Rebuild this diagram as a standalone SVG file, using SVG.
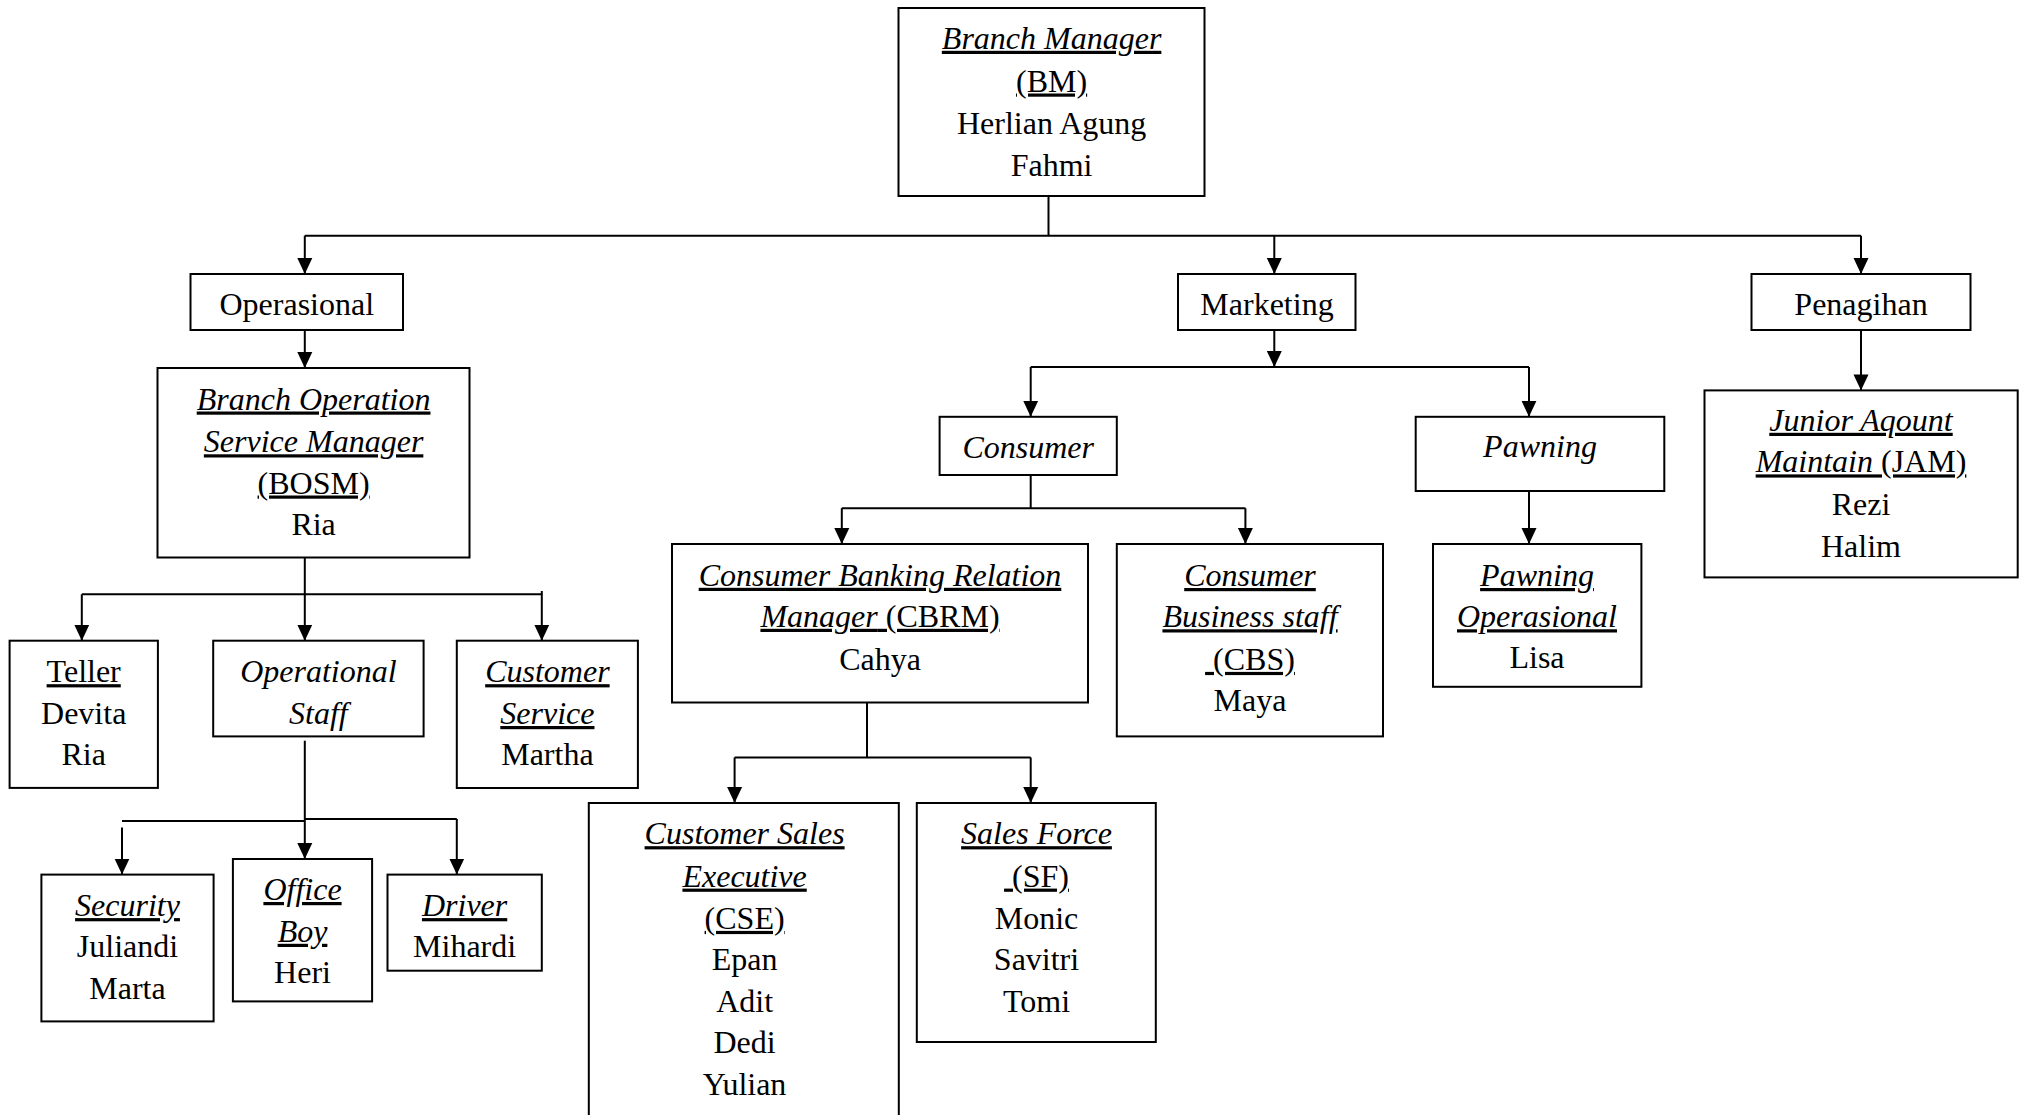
<svg xmlns="http://www.w3.org/2000/svg" width="2027" height="1115" viewBox="0 0 2027 1115">
<style>
.bg{fill:#fff}
.box{fill:#fff;stroke:#000;stroke-width:2}
.ln{fill:none;stroke:#000;stroke-width:2}
.ar{fill:none;stroke:#000;stroke-width:2;marker-end:url(#ah)}
.t{font-family:"Liberation Serif","Times New Roman",serif;font-size:32px;text-anchor:middle;fill:#000}
.i{font-style:italic}
.u{text-decoration:underline}
</style>
<defs>
<marker id="ah" viewBox="0 0 16 16" refX="16" refY="8" markerUnits="userSpaceOnUse" markerWidth="16" markerHeight="16" orient="auto">
<path d="M0,0.5 L16,8 L0,15.5 z" fill="#000"/>
</marker>
</defs>
<rect class="bg" x="0" y="0" width="2027" height="1115"/>

<g id="connectors">
<path class="ln" d="M1048.5,196 V235.7"/>
<path class="ln" d="M304.8,235.7 H1861"/>
<path class="ar" d="M304.8,235.7 V274"/>
<path class="ar" d="M1274.3,235.7 V274"/>
<path class="ar" d="M1861,235.7 V274"/>
<path class="ar" d="M304.8,330 V368"/>
<path class="ar" d="M1274.3,330 V367"/>
<path class="ln" d="M1030.7,367 H1529"/>
<path class="ar" d="M1030.7,367 V416.8"/>
<path class="ar" d="M1529,367 V416.8"/>
<path class="ar" d="M1861,330 V390.4"/>
<path class="ar" d="M1529,491 V544"/>
<path class="ln" d="M1030.7,475 V508.2"/>
<path class="ln" d="M841.8,508.2 H1245.4"/>
<path class="ar" d="M841.8,508.2 V544"/>
<path class="ar" d="M1245.4,508.2 V544"/>
<path class="ln" d="M867,702.5 V757.5"/>
<path class="ln" d="M734.6,757.5 H1030.7"/>
<path class="ar" d="M734.6,757.5 V803"/>
<path class="ar" d="M1030.7,757.5 V803"/>
<path class="ar" d="M304.8,557.5 V640.7"/>
<path class="ln" d="M81.8,594.3 H541.8"/>
<path class="ar" d="M81.8,594.3 V640.7"/>
<path class="ar" d="M541.8,591 V640.7"/>
<path class="ar" d="M304.8,740.7 V859"/>
<path class="ln" d="M122,821 H304.8"/>
<path class="ln" d="M304.8,819 H456.8"/>
<path class="ar" d="M122,827.5 V874.6"/>
<path class="ar" d="M456.8,819 V874.6"/>
</g>

<g id="bm">
<rect class="box" x="898.5" y="8" width="306" height="188"/>
<text class="t i u" x="1051.6" y="48.8">Branch Manager</text>
<text class="t u" x="1051.6" y="91.5">(BM)</text>
<text class="t" x="1051.6" y="133.5">Herlian Agung</text>
<text class="t" x="1051.6" y="175.5">Fahmi</text>
</g>

<g id="operasional">
<rect class="box" x="190.5" y="274" width="212.5" height="56"/>
<text class="t" x="296.8" y="314.8">Operasional</text>
</g>

<g id="marketing">
<rect class="box" x="1178" y="274" width="177.5" height="56"/>
<text class="t" x="1267" y="314.8">Marketing</text>
</g>

<g id="penagihan">
<rect class="box" x="1751.5" y="274" width="219" height="56"/>
<text class="t" x="1861" y="314.8">Penagihan</text>
</g>

<g id="bosm">
<rect class="box" x="157.5" y="368" width="312" height="189.5"/>
<text class="t i u" x="313.6" y="409.5">Branch Operation</text>
<text class="t i u" x="313.6" y="452.3">Service Manager</text>
<text class="t u" x="313.6" y="493.5">(BOSM)</text>
<text class="t" x="313.6" y="534.5">Ria</text>
</g>

<g id="consumer">
<rect class="box" x="939.6" y="416.8" width="177.2" height="58.2"/>
<text class="t i" x="1028.2" y="458.3">Consumer</text>
</g>

<g id="pawning">
<rect class="box" x="1415.7" y="416.8" width="248.6" height="74.2"/>
<text class="t i" x="1540" y="457.3">Pawning</text>
</g>

<g id="jam">
<rect class="box" x="1704.5" y="390.4" width="313.2" height="187"/>
<text class="t i u" x="1861" y="430.8">Junior Aqount</text>
<text class="t u" x="1861" y="472.4"><tspan class="i">Maintain</tspan> (JAM)</text>
<text class="t" x="1861" y="515.4">Rezi</text>
<text class="t" x="1861" y="557.4">Halim</text>
</g>

<g id="cbrm">
<rect class="box" x="672" y="544" width="416" height="158.5"/>
<text class="t i u" x="880" y="585.8">Consumer Banking Relation</text>
<text class="t u" x="880" y="626.8"><tspan class="i">Manager</tspan> (CBRM)</text>
<text class="t" x="880" y="669.6">Cahya</text>
</g>

<g id="cbs">
<rect class="box" x="1116.8" y="544" width="266.2" height="192.4"/>
<text class="t i u" x="1250" y="586">Consumer</text>
<text class="t i u" x="1250" y="627.3">Business staff</text>
<text class="t u" x="1250" y="669.9">&#160;(CBS)</text>
<text class="t" x="1250" y="711">Maya</text>
</g>

<g id="pawning-operasional">
<rect class="box" x="1433" y="544" width="208.4" height="142.8"/>
<text class="t i u" x="1537" y="586">Pawning</text>
<text class="t i u" x="1537" y="627.3">Operasional</text>
<text class="t" x="1537" y="668.3">Lisa</text>
</g>

<g id="teller">
<rect class="box" x="9.6" y="640.7" width="148.3" height="147.2"/>
<text class="t u" x="83.7" y="682.2">Teller</text>
<text class="t" x="83.7" y="724">Devita</text>
<text class="t" x="83.7" y="765.4">Ria</text>
</g>

<g id="operational-staff">
<rect class="box" x="213.2" y="640.7" width="210.4" height="95.7"/>
<text class="t i" x="318.4" y="682.2">Operational</text>
<text class="t i" x="318.4" y="724">Staff</text>
</g>

<g id="customer-service">
<rect class="box" x="456.8" y="640.7" width="181.1" height="147.3"/>
<text class="t i u" x="547.4" y="682.2">Customer</text>
<text class="t i u" x="547.4" y="724">Service</text>
<text class="t" x="547.4" y="765.4">Martha</text>
</g>

<g id="security">
<rect class="box" x="41.4" y="874.6" width="172.2" height="146.8"/>
<text class="t i u" x="127.5" y="916.1">Security</text>
<text class="t" x="127.5" y="957.2">Juliandi</text>
<text class="t" x="127.5" y="999">Marta</text>
</g>

<g id="office-boy">
<rect class="box" x="232.9" y="859" width="139.2" height="142.4"/>
<text class="t i u" x="302.5" y="900">Office</text>
<text class="t i u" x="302.5" y="941.8">Boy</text>
<text class="t" x="302.5" y="983.3">Heri</text>
</g>

<g id="driver">
<rect class="box" x="387.5" y="874.6" width="154.3" height="96.1"/>
<text class="t i u" x="464.6" y="916.1">Driver</text>
<text class="t" x="464.6" y="957.2">Mihardi</text>
</g>

<g id="cse">
<rect class="box" x="588.8" y="803" width="310" height="330"/>
<text class="t i u" x="744.6" y="844.2">Customer Sales</text>
<text class="t i u" x="744.6" y="886.6">Executive</text>
<text class="t u" x="744.6" y="928.9">(CSE)</text>
<text class="t" x="744.6" y="970.4">Epan</text>
<text class="t" x="744.6" y="1012.1">Adit</text>
<text class="t" x="744.6" y="1053.4">Dedi</text>
<text class="t" x="744.6" y="1095.4">Yulian</text>
</g>

<g id="sf">
<rect class="box" x="916.8" y="803" width="239" height="239"/>
<text class="t i u" x="1036.5" y="844.2">Sales Force</text>
<text class="t u" x="1036.5" y="886.6">&#160;(SF)</text>
<text class="t" x="1036.5" y="928.9">Monic</text>
<text class="t" x="1036.5" y="970.4">Savitri</text>
<text class="t" x="1036.5" y="1012.4">Tomi</text>
</g>
</svg>
